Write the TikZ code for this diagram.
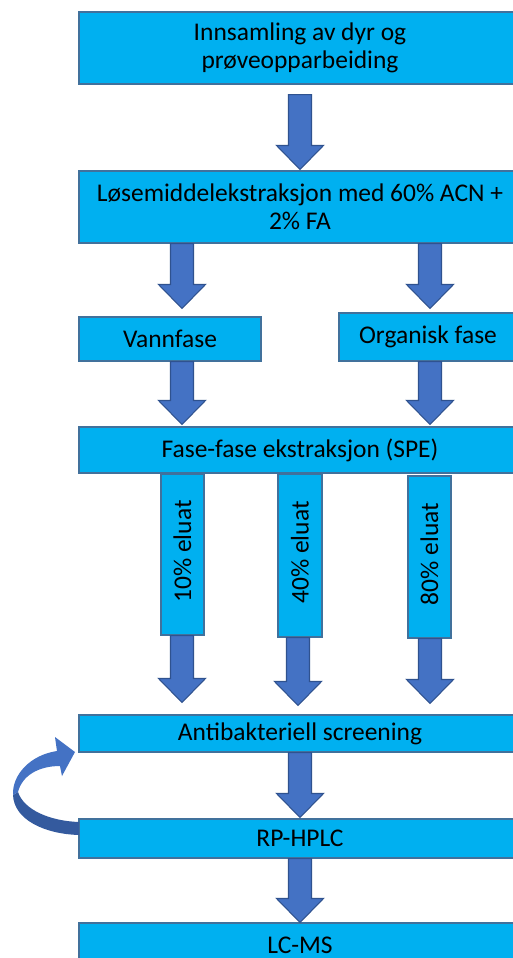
\documentclass[tikz,border=0pt]{standalone}
\usepackage{fontspec}
\setmainfont{Carlito}
\usetikzlibrary{calc}
\definecolor{boxfill}{HTML}{00B0F0}
\definecolor{boxline}{HTML}{41719C}
\definecolor{arrfill}{HTML}{4472C4}
\definecolor{arrline}{HTML}{2F528F}
\definecolor{arrdark}{HTML}{345A9E}
\newcommand\blockarrow[5]{% from, to, column, top gap, tip gap
  \path ($(#1.south -| #3)+(0,#4)$) coordinate (ba-s)
        ($(#2.north -| #3)+(0,-#5)$) coordinate (ba-t);
  \draw[barrow] ($(ba-s)+(-11.5,0)$) -- ($(ba-t)+(-11.5,-24)$) -- ($(ba-t)+(-23.5,-24)$)
     -- (ba-t) -- ($(ba-t)+(23.5,-24)$) -- ($(ba-t)+(11.5,-24)$) -- ($(ba-s)+(11.5,0)$) -- cycle;}
\begin{document}
\begin{tikzpicture}[x=0.02cm,y=-0.02cm,
  box/.style={rectangle, fill=boxfill, draw=boxline, line width=0.6pt, inner sep=0pt,
    align=center, font=\fontsize{14.5pt}{16pt}\selectfont, text=black},
  barrow/.style={fill=arrfill, draw=arrline, line width=0.6pt, line join=miter},
  lbl/.style={font=\fontsize{14.5pt}{16pt}\selectfont, text=black, inner sep=0pt, rotate=90}]
\useasboundingbox (0,0) rectangle (513,958);
\clip (0,0) rectangle (513,958);
\fill[white] (0,0) rectangle (513,958);
% columns
\coordinate (cL) at (182,0);
\coordinate (cM) at (300,0);
\coordinate (cE) at (298,0);
\coordinate (cR) at (430,0);
% boxes
\node[box, minimum width=442*0.02cm, minimum height=72*0.02cm] (n1) at (300,48) {Innsamling av dyr og\\prøveopparbeiding};
\node[box, minimum width=442*0.02cm, minimum height=72*0.02cm] (n2) at (300,207) {Løsemiddelekstraksjon med 60\% ACN +\\2\% FA};
\node[box, minimum width=182*0.02cm, minimum height=44*0.02cm] (vann) at (170,339) {Vannfase};
\node[box, minimum width=178*0.02cm, minimum height=48*0.02cm] (org) at (428,337) {Organisk fase};
\node[box, minimum width=442*0.02cm, minimum height=46*0.02cm] (spe) at (300,450) {Fase-fase ekstraksjon (SPE)};
\node[box, minimum width=43*0.02cm, minimum height=161*0.02cm] (e1) at (182.5,554.5) {};
\node[box, minimum width=44*0.02cm, minimum height=163*0.02cm] (e2) at (300,555.5) {};
\node[box, minimum width=43*0.02cm, minimum height=162*0.02cm] (e3) at (429.5,557) {};
\node[lbl] (e1t) at ($(e1.center)+(0,-3)$) {10\% eluat};
\node[lbl] (e2t) at ($(e2.center)+(0,-3)$) {40\% eluat};
\node[lbl] (e3t) at ($(e3.center)+(0,-3)$) {80\% eluat};
\node[box, minimum width=442*0.02cm, minimum height=37*0.02cm] (ab) at (300,733.5) {Antibakteriell screening};
\node[box, minimum width=442*0.02cm, minimum height=39*0.02cm] (rp) at (300,838.5) {RP-HPLC};
\node[box, minimum width=442*0.02cm, minimum height=45*0.02cm] (lc) at (300,945.5) {LC-MS};
% block arrows
\blockarrow{n1}{n2}{cM}{10}{1}
\blockarrow{n2}{vann}{cL}{0}{8}
\blockarrow{n2}{org}{cR}{0}{4}
\blockarrow{vann}{spe}{cL}{0}{2}
\blockarrow{org}{spe}{cR}{0}{2}
\blockarrow{e1}{ab}{cL}{0}{12}
\blockarrow{e2}{ab}{cE}{0}{9}
\blockarrow{e3}{ab}{cR}{0}{11}
\blockarrow{ab}{rp}{cM}{0}{1}
\blockarrow{rp}{lc}{cM}{0}{0}
% curved return arrow from RP-HPLC to Antibakteriell screening
\fill[arrdark] (13,795) .. controls (14,820) and (45,834) .. (79,835) -- (79,822)
  .. controls (50,821) and (24,810) .. (18,792) -- cycle;
\fill[arrfill] (13,795) .. controls (12,775) and (30,755) .. (57,751) -- (55,737) -- (75,752)
  -- (62,776) -- (60,766) .. controls (38,766) and (22,776) .. (18,792) -- cycle;
\end{tikzpicture}
\end{document}
